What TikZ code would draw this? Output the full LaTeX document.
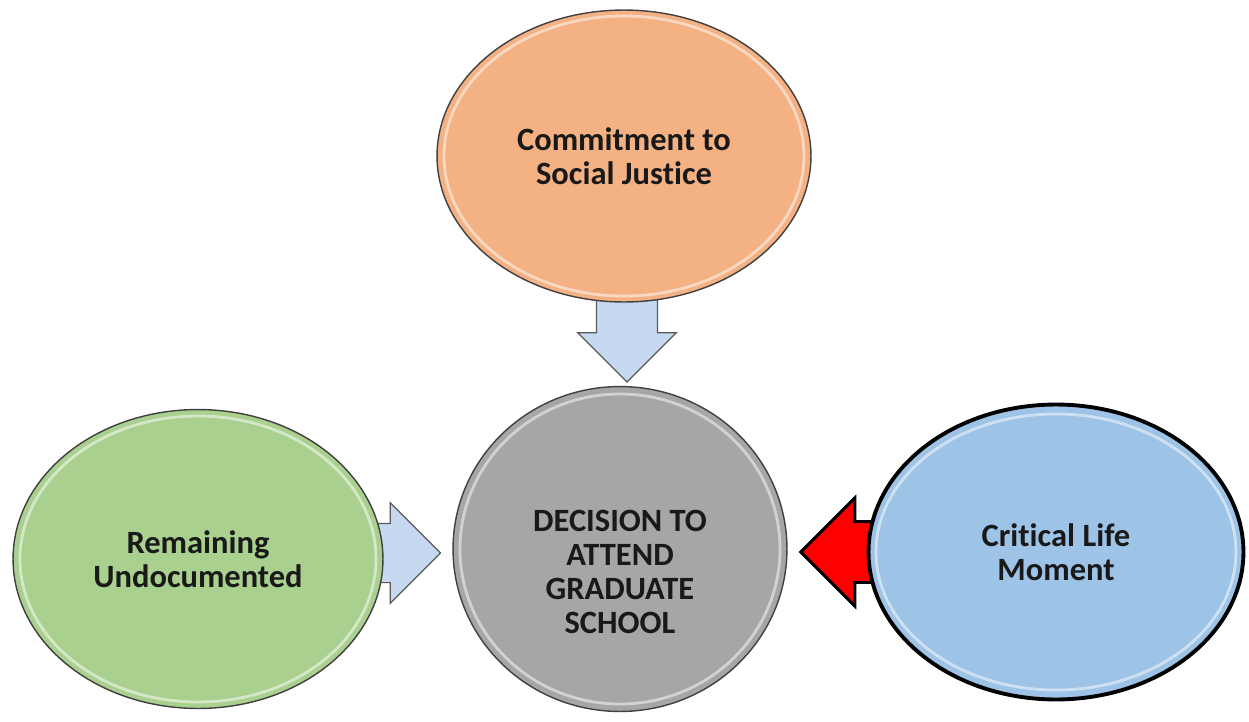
\documentclass[tikz,border=0pt]{standalone}
\usepackage{fontspec}
\setmainfont{Carlito}[Ligatures=NoCommon]
\usepackage{tikz}
\usetikzlibrary{arrows.meta, shapes.geometric, shapes.arrows, calc, positioning}
\pgfdeclarelayer{back}
\pgfsetlayers{back,main}
\definecolor{orangefill}{HTML}{F4B183}
\definecolor{greenfill}{HTML}{A9D08E}
\definecolor{grayfill}{HTML}{A6A6A6}
\definecolor{bluefill}{HTML}{9DC3E6}
\definecolor{arrowblue}{HTML}{C6D9F1}

\begin{document}
\begin{tikzpicture}[x=0.02cm, y=-0.02cm,
    bubble/.style={ellipse, draw=black!75, line width=0.8pt, inner sep=0pt, align=center,
        font=\fontsize{18.5}{19.5}\selectfont\bfseries, text=black!90},
    bubtext/.style={align=center, inner sep=0pt, font=\fontsize{18.5}{19.5}\selectfont\bfseries, text=black!90},
    gloss/.style={white, opacity=0.5, line width=1.6pt},
    blockarrow/.style={single arrow, draw=black!65, fill=arrowblue, line width=0.7pt, inner xsep=0pt,
        single arrow tip angle=90}]
            \useasboundingbox (0,0) rectangle (1249,721);
            %\draw [step=50, gray!30] (0,0) grid (1249,721);
            \node[bubble, fill=orangefill, minimum width=7.48cm, minimum height=5.84cm] (social) at (624,156) {Commitment to\\Social Justice};
            \node[bubble, fill=grayfill, minimum width=6.68cm, minimum height=6.5cm] (dec) at (620,549) {};
            \node[bubtext] (dectext) at (620,572) {DECISION TO\\ATTEND\\GRADUATE\\SCHOOL};
            \node[bubble, fill=greenfill, minimum width=7.4cm, minimum height=5.98cm] (undoc) at (198,559) {Remaining\\Undocumented};
            \node[bubble, fill=bluefill, draw=black, line width=2.2pt, minimum width=7.5cm, minimum height=5.9cm] (moment) at (1056,552) {Critical Life\\Moment};

            \draw[gloss] (social.center) ellipse [x radius=180, y radius=140];
            \draw[gloss] (dec.center) ellipse [x radius=160, y radius=155];
            \draw[gloss] (undoc.center) ellipse [x radius=178, y radius=143];
            \draw[gloss] (moment.center) ellipse [x radius=180, y radius=138];

            \begin{pgfonlayer}{back}
            \node[blockarrow, rotate=-90, anchor=tip, minimum height=1.7cm, inner ysep=0.6cm,
                single arrow head extend=0.37cm] (downarr) at ($(dec.north)+(7,-3)$) {};
            \node[blockarrow, anchor=tip, minimum height=1.5cm, inner ysep=0.58cm,
                single arrow head extend=0.41cm] (rightarr) at ($(dec.west)+(-11,4)$) {};
            \node[blockarrow, fill=red, draw=black, line width=1.7pt, rotate=180, anchor=tip,
                minimum height=1.7cm, inner ysep=0.58cm, single arrow head extend=0.47cm] (leftarr) at ($(dec.east)+(11,3)$) {};
            \end{pgfonlayer}
\end{tikzpicture}
\end{document}
